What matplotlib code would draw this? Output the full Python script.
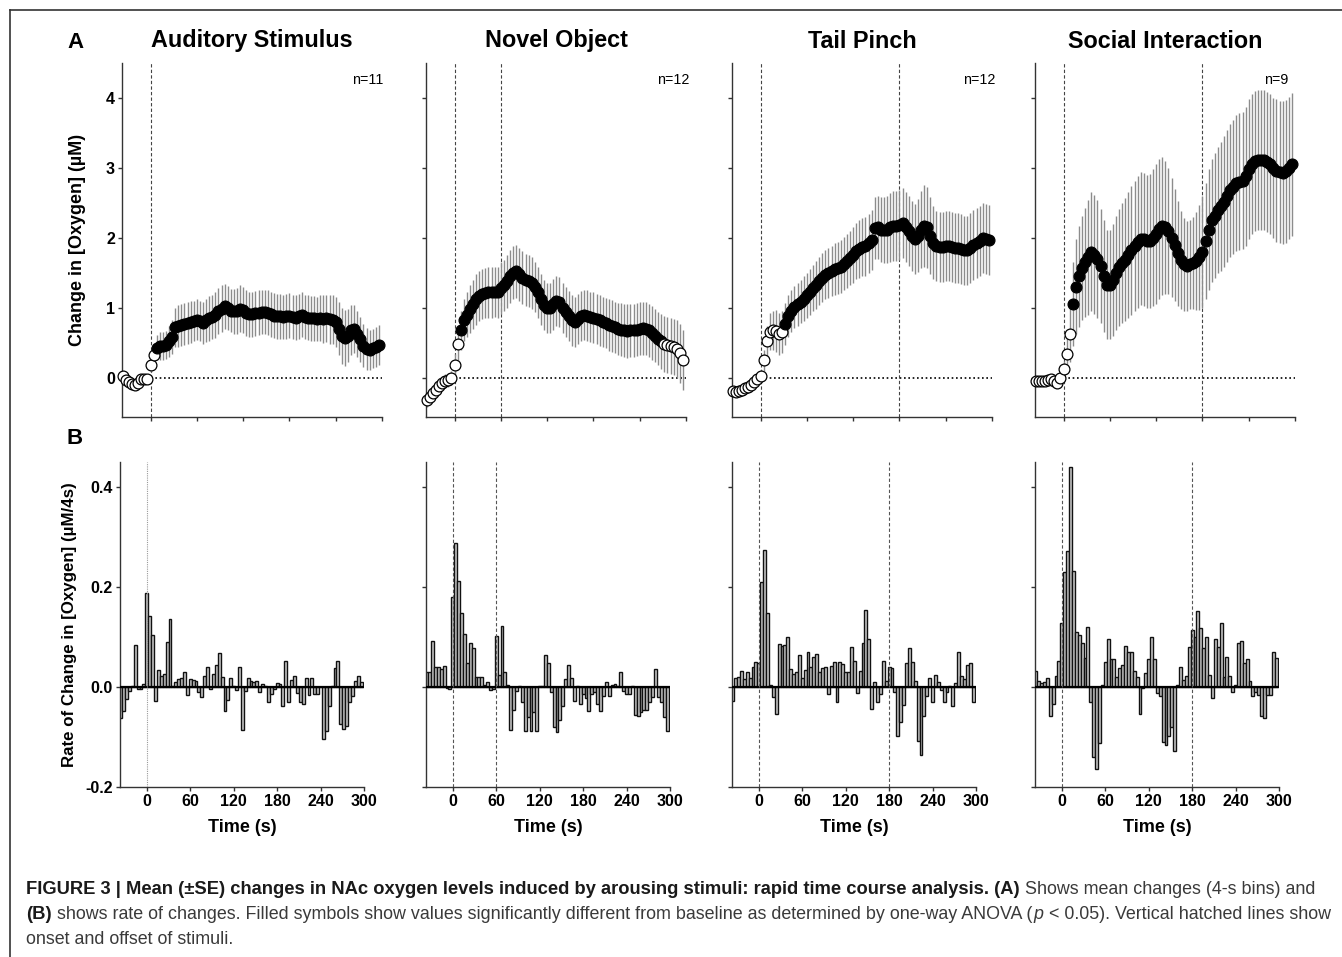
import matplotlib
matplotlib.use("Agg")
import numpy as np
import matplotlib.pyplot as plt
from matplotlib.lines import Line2D

plt.rcParams['font.family'] = ['Liberation Sans', 'DejaVu Sans']

# ---------------- data ----------------
time_s = list(range(-36, 300, 4))          # 4-s bins
titles = ['Auditory Stimulus', 'Novel Object', 'Tail Pinch', 'Social Interaction']
n_labels = ['n=11', 'n=12', 'n=12', 'n=9']
stim_off = [None, 60, 180, 180]
sig_start = [8, 8, 32, 12]
sig_end = [296, 268, 296, 296]

auditory_mean = [0.03, -0.03, -0.06, -0.09, -0.10, -0.08, -0.02, -0.01, -0.01,
                 0.18, 0.33, 0.43, 0.45, 0.45, 0.47, 0.52, 0.58, 0.72, 0.74,
                 0.75, 0.77, 0.78, 0.80, 0.81, 0.83, 0.81, 0.79, 0.82, 0.85,
                 0.87, 0.90, 0.95, 0.99, 1.02, 1.00, 0.96, 0.95, 0.96, 0.99,
                 0.97, 0.93, 0.91, 0.91, 0.92, 0.93, 0.94, 0.94, 0.93, 0.91,
                 0.89, 0.88, 0.88, 0.87, 0.88, 0.89, 0.87, 0.86, 0.88, 0.90,
                 0.87, 0.86, 0.85, 0.85, 0.84, 0.85, 0.84, 0.85, 0.84, 0.83,
                 0.80, 0.70, 0.60, 0.57, 0.60, 0.68, 0.70, 0.63, 0.55, 0.46,
                 0.41, 0.40, 0.42, 0.44, 0.47]
auditory_se = [0.05, 0.05, 0.05, 0.05, 0.05, 0.05, 0.05, 0.05, 0.06,
               0.10, 0.14, 0.18, 0.20, 0.20, 0.20, 0.22, 0.24, 0.28, 0.30,
               0.30, 0.30, 0.30, 0.30, 0.29, 0.29, 0.29, 0.30, 0.31, 0.32,
               0.32, 0.33, 0.33, 0.33, 0.32, 0.31, 0.31, 0.32, 0.33, 0.33,
               0.33, 0.33, 0.32, 0.32, 0.32, 0.32, 0.32, 0.32, 0.32, 0.32,
               0.32, 0.32, 0.32, 0.32, 0.32, 0.32, 0.32, 0.32, 0.32, 0.32,
               0.32, 0.32, 0.32, 0.32, 0.32, 0.33, 0.34, 0.34, 0.35, 0.35,
               0.36, 0.38, 0.40, 0.40, 0.38, 0.36, 0.34, 0.33, 0.32, 0.31,
               0.30, 0.29, 0.28, 0.28, 0.28]

novel_mean = [-0.31, -0.27, -0.22, -0.17, -0.12, -0.08, -0.05, -0.03, 0.00,
              0.19, 0.48, 0.68, 0.82, 0.90, 0.98, 1.05, 1.12, 1.17, 1.20,
              1.21, 1.22, 1.22, 1.23, 1.22, 1.28, 1.32, 1.38, 1.45, 1.50,
              1.52, 1.48, 1.43, 1.40, 1.38, 1.36, 1.30, 1.22, 1.12, 1.04,
              1.00, 1.00, 1.05, 1.10, 1.08, 1.00, 0.94, 0.88, 0.82, 0.80,
              0.84, 0.88, 0.90, 0.89, 0.87, 0.86, 0.84, 0.82, 0.80, 0.78,
              0.76, 0.74, 0.72, 0.70, 0.69, 0.68, 0.67, 0.68, 0.68, 0.69,
              0.70, 0.71, 0.70, 0.68, 0.64, 0.60, 0.56, 0.52, 0.48, 0.47,
              0.46, 0.44, 0.41, 0.35, 0.25]
novel_se = [0.10, 0.10, 0.10, 0.10, 0.10, 0.10, 0.10, 0.10, 0.10,
            0.15, 0.22, 0.28, 0.30, 0.32, 0.34, 0.35, 0.36, 0.36, 0.36,
            0.36, 0.36, 0.36, 0.36, 0.36, 0.37, 0.37, 0.38, 0.38, 0.38,
            0.38, 0.38, 0.38, 0.37, 0.37, 0.37, 0.36, 0.36, 0.36, 0.36,
            0.36, 0.36, 0.36, 0.36, 0.36, 0.36, 0.36, 0.36, 0.36, 0.36,
            0.36, 0.36, 0.36, 0.36, 0.36, 0.36, 0.36, 0.36, 0.36, 0.36,
            0.37, 0.37, 0.37, 0.37, 0.38, 0.38, 0.38, 0.38, 0.38, 0.38,
            0.38, 0.38, 0.38, 0.38, 0.38, 0.38, 0.38, 0.39, 0.40, 0.40,
            0.40, 0.40, 0.41, 0.42, 0.43]

tail_mean = [-0.19, -0.20, -0.19, -0.17, -0.15, -0.13, -0.10, -0.06, -0.02,
             0.03, 0.25, 0.52, 0.66, 0.68, 0.67, 0.62, 0.66, 0.77, 0.88,
             0.96, 1.01, 1.05, 1.09, 1.13, 1.18, 1.23, 1.28, 1.33, 1.38,
             1.43, 1.47, 1.50, 1.53, 1.55, 1.57, 1.59, 1.63, 1.67, 1.71,
             1.76, 1.81, 1.84, 1.87, 1.88, 1.92, 1.97, 2.14, 2.15, 2.12,
             2.11, 2.12, 2.15, 2.17, 2.17, 2.19, 2.21, 2.16, 2.10, 2.03,
             1.98, 2.03, 2.12, 2.17, 2.15, 2.03, 1.93, 1.88, 1.87, 1.87,
             1.88, 1.88, 1.87, 1.86, 1.85, 1.84, 1.82, 1.82, 1.86, 1.90,
             1.93, 1.96, 2.00, 1.99, 1.97]
tail_se = [0.04, 0.04, 0.04, 0.04, 0.04, 0.04, 0.04, 0.04, 0.05,
           0.08, 0.15, 0.22, 0.26, 0.28, 0.30, 0.30, 0.30, 0.30, 0.30,
           0.30, 0.30, 0.31, 0.31, 0.32, 0.32, 0.33, 0.33, 0.34, 0.34,
           0.35, 0.35, 0.36, 0.36, 0.37, 0.37, 0.38, 0.38, 0.39, 0.39,
           0.40, 0.40, 0.41, 0.41, 0.42, 0.42, 0.43, 0.44, 0.45, 0.46,
           0.47, 0.48, 0.49, 0.50, 0.50, 0.50, 0.50, 0.50, 0.50, 0.50,
           0.50, 0.52, 0.55, 0.58, 0.58, 0.55, 0.52, 0.50, 0.50, 0.50,
           0.50, 0.50, 0.50, 0.50, 0.50, 0.50, 0.50, 0.50, 0.50, 0.50,
           0.50, 0.50, 0.50, 0.50, 0.50]

social_mean = [-0.05, -0.05, -0.04, -0.04, -0.03, -0.02, -0.05, -0.08, 0.00,
               0.12, 0.34, 0.62, 1.06, 1.30, 1.45, 1.57, 1.65, 1.72, 1.80,
               1.76, 1.70, 1.60, 1.45, 1.33, 1.33, 1.40, 1.50, 1.58, 1.64,
               1.69, 1.75, 1.82, 1.88, 1.94, 1.99, 1.98, 1.95, 1.96, 2.00,
               2.06, 2.13, 2.17, 2.15, 2.10, 2.00, 1.90, 1.78, 1.68, 1.62,
               1.60, 1.62, 1.64, 1.67, 1.72, 1.80, 1.95, 2.12, 2.25, 2.32,
               2.40, 2.45, 2.52, 2.60, 2.68, 2.73, 2.78, 2.80, 2.82, 2.88,
               2.98, 3.05, 3.10, 3.12, 3.12, 3.11, 3.09, 3.05, 3.00, 2.96,
               2.94, 2.93, 2.95, 3.00, 3.05]
social_se = [0.06, 0.06, 0.06, 0.06, 0.06, 0.06, 0.06, 0.06, 0.06,
             0.12, 0.25, 0.40, 0.60, 0.68, 0.72, 0.75, 0.78, 0.82, 0.85,
             0.85, 0.84, 0.82, 0.80, 0.78, 0.78, 0.80, 0.82, 0.84, 0.86,
             0.88, 0.90, 0.92, 0.93, 0.94, 0.95, 0.95, 0.95, 0.96, 0.98,
             1.00, 1.00, 0.98, 0.95, 0.90, 0.85, 0.80, 0.75, 0.70, 0.66,
             0.64, 0.64, 0.66, 0.70, 0.75, 0.80, 0.83, 0.86, 0.88, 0.90,
             0.90, 0.92, 0.93, 0.94, 0.95, 0.96, 0.97, 0.98, 0.98, 0.99,
             1.00, 1.00, 1.00, 1.00, 1.00, 1.00, 1.00, 1.00, 1.00, 1.02,
             1.02, 1.02, 1.02, 1.02, 1.02]

auditory_rate = [-0.062, -0.047, -0.023, -0.008, 0.003, 0.085, -0.004, -0.003, 0.006,
                 0.189, 0.143, 0.105, -0.028, 0.035, 0.022, 0.026, 0.090, 0.137, 0.003,
                 0.010, 0.016, 0.018, 0.030, -0.015, 0.016, 0.015, 0.012, -0.010, -0.020,
                 0.022, 0.040, -0.003, 0.027, 0.045, 0.068, 0.020, -0.048, -0.025, 0.018,
                 0.002, -0.005, 0.040, -0.085, -0.008, 0.018, 0.013, 0.010, 0.012, -0.010,
                 0.006, 0.003, -0.030, -0.013, -0.003, 0.008, 0.006, -0.038, 0.052, -0.030,
                 0.015, 0.022, -0.012, -0.030, -0.033, 0.018, -0.015, 0.018, -0.013, -0.013,
                 0.001, -0.103, -0.088, -0.037, 0.002, 0.038, 0.053, -0.073, -0.083, -0.077,
                 -0.030, -0.017, 0.013, 0.023, 0.010]
novel_rate = [0.031, 0.031, 0.092, 0.040, 0.040, 0.037, 0.042, -0.002, -0.003,
              0.180, 0.288, 0.213, 0.148, 0.107, 0.049, 0.088, 0.078, 0.020, 0.020,
              0.020, 0.004, 0.011, -0.006, -0.003, 0.103, 0.024, 0.122, 0.031, 0.005,
              -0.085, -0.045, -0.008, 0.003, -0.030, -0.088, -0.060, -0.087, -0.050, -0.088,
              0.003, 0.003, 0.065, 0.048, -0.010, -0.080, -0.090, -0.065, -0.038, 0.016,
              0.044, 0.018, -0.028, 0.002, -0.033, -0.013, -0.022, -0.048, -0.014, -0.010,
              -0.033, -0.048, -0.017, 0.010, -0.018, 0.004, 0.006, 0.003, 0.030, -0.007,
              -0.014, -0.013, 0.002, -0.055, -0.057, -0.050, -0.045, -0.045, -0.030, -0.020,
              0.037, -0.020, -0.030, -0.060, -0.088]
tail_rate = [-0.028, 0.018, 0.020, 0.032, 0.016, 0.030, 0.018, 0.040, 0.050,
             0.048, 0.210, 0.274, 0.149, 0.004, -0.020, -0.053, 0.086, 0.083, 0.085,
             0.101, 0.036, 0.026, 0.031, 0.064, 0.018, 0.035, 0.071, 0.040, 0.060,
             0.066, 0.030, 0.038, 0.040, -0.013, 0.043, 0.050, -0.030, 0.050, 0.047,
             0.030, 0.030, 0.080, 0.052, -0.012, 0.033, 0.088, 0.155, 0.097, -0.043,
             0.010, -0.030, -0.013, 0.053, 0.012, 0.040, 0.038, -0.010, -0.097, -0.070,
             -0.035, 0.048, 0.078, 0.050, 0.012, -0.108, -0.135, -0.057, -0.018, 0.018,
             -0.030, 0.024, 0.010, -0.005, -0.030, -0.010, 0.003, -0.038, 0.008, 0.070,
             0.022, 0.016, 0.045, 0.048, -0.030]
social_rate = [0.032, 0.012, 0.008, 0.010, 0.018, -0.057, -0.033, 0.022, 0.052,
               0.128, 0.230, 0.273, 0.440, 0.232, 0.110, 0.105, 0.088, 0.058, 0.120,
               -0.030, -0.140, -0.164, -0.112, 0.005, 0.050, 0.097, 0.057, 0.057, 0.020,
               0.038, 0.045, 0.082, 0.070, 0.070, 0.033, 0.020, -0.053, -0.002, 0.028,
               0.057, 0.100, 0.057, -0.012, -0.017, -0.110, -0.115, -0.098, -0.080, -0.128,
               0.005, 0.040, 0.015, 0.022, 0.080, 0.114, 0.100, 0.152, 0.118, 0.078,
               0.100, 0.025, -0.022, 0.097, 0.080, 0.128, 0.020, 0.060, 0.022, -0.010,
               0.005, 0.088, 0.093, 0.048, 0.057, 0.012, -0.018, -0.010, -0.015, -0.057,
               -0.062, -0.015, -0.015, 0.070, 0.058]

means = [auditory_mean, novel_mean, tail_mean, social_mean]
ses = [auditory_se, novel_se, tail_se, social_se]
rates = [auditory_rate, novel_rate, tail_rate, social_rate]
for arr in means + ses + rates:
    assert len(arr) == len(time_s), len(arr)

# ---------------- layout ----------------
W, H = 1342, 957
fig = plt.figure(figsize=(W / 100, H / 100), dpi=100)
fig.patch.set_facecolor('white')


def fx(px):
    return px / W


def fy(py):
    return 1 - py / H


def add_ax(left, right, top, bottom):
    return fig.add_axes([fx(left), fy(bottom), (right - left) / W, (bottom - top) / H])


top_lefts = [122, 426, 732, 1035]
bot_lefts = [120, 426, 732, 1035]
XMIN, XMAX = -37, 300
spine_col = '#333333'
tick_font = dict(fontsize=11.5, fontweight='bold')


def style_axes(ax):
    for s in ['top', 'right']:
        ax.spines[s].set_visible(False)
    for s in ['left', 'bottom']:
        ax.spines[s].set_color(spine_col)
        ax.spines[s].set_linewidth(1.0)
    ax.tick_params(direction='out', length=3, width=1.0, colors=spine_col,
                   labelcolor='black', pad=2)
    ax.set_xlim(XMIN, XMAX)
    ax.set_xticks([0, 60, 120, 180, 240, 300])


t = np.array(time_s)
for i in range(4):
    # ---- top row ----
    ax = add_ax(top_lefts[i], top_lefts[i] + 260, 63, 417)
    style_axes(ax)
    ax.set_ylim(-0.56, 4.5)
    ax.set_yticks([0, 1, 2, 3, 4])
    ax.set_xticklabels([])
    if i == 0:
        ax.set_yticklabels(['0', '1', '2', '3', '4'], **tick_font)
    else:
        ax.set_yticklabels([])
    m = np.array(means[i])
    se = np.array(ses[i])
    ax.plot([0, 300], [0, 0], color='black', lw=1.2, ls=(0, (1, 1.6)), zorder=1)
    ax.axvline(0, color='#444444', lw=0.8, ls=(0, (3, 2)), zorder=1)
    if stim_off[i] is not None:
        ax.axvline(stim_off[i], color='#444444', lw=0.8, ls=(0, (3, 2)), zorder=1)
    ax.vlines(t, m - se, m + se, colors='#8c8c8c', linewidth=1.0, zorder=2)
    pre = t < sig_start[i]
    sig = (t >= sig_start[i]) & (t <= sig_end[i])
    post = t > sig_end[i]
    ax.plot(t[pre], m[pre], 'o', ms=7.8, mfc='white', mec='black', mew=0.9,
            zorder=3, clip_on=False)
    ax.plot(t[sig], m[sig], 'o', ms=7.8, mfc='black', mec='black', mew=0.9,
            zorder=4, clip_on=False)
    ax.plot(t[post], m[post], 'o', ms=7.8, mfc='white', mec='black', mew=0.9,
            zorder=5, clip_on=False)
    cx = top_lefts[i] + 130
    fig.text(fx(cx), fy(41), titles[i], ha='center', va='center',
             fontsize=16.8, fontweight='bold')
    nx = [368, 673, 979, 1276][i]
    fig.text(fx(nx), fy(80), n_labels[i], ha='center', va='center', fontsize=10.3)

    # ---- bottom row ----
    ax2 = add_ax(bot_lefts[i], bot_lefts[i] + 244, 462, 787)
    style_axes(ax2)
    ax2.set_ylim(-0.2, 0.45)
    ax2.set_yticks([-0.2, 0.0, 0.2, 0.4])
    ax2.set_xticklabels(['0', '60', '120', '180', '240', '300'], **tick_font)
    if i == 0:
        ax2.set_yticklabels(['-0.2', '0.0', '0.2', '0.4'], **tick_font)
    else:
        ax2.set_yticklabels([])
    ax2.bar(t, rates[i], width=4, color='#c8c8c8', edgecolor='#111111',
            linewidth=1.0, zorder=2)
    ax2.plot([XMIN, 300], [0, 0], color='black', lw=1.6, zorder=3)
    if i == 0:
        ax2.axvline(0, color='#9a9a9a', lw=0.8, ls=(0, (1, 1)), zorder=4)
    else:
        ax2.axvline(0, color='#555555', lw=0.8, ls=(0, (3, 2)), zorder=4)
        ax2.axvline(stim_off[i], color='#555555', lw=0.8, ls=(0, (3, 2)), zorder=4)
    fig.text(fx(bot_lefts[i] + 122), fy(828), 'Time (s)', ha='center', va='center',
             fontsize=13, fontweight='bold')

# axis labels and panel letters
fig.text(fx(78), fy(240), 'Change in [Oxygen] (\u00b5M)', rotation=90,
         ha='center', va='center', fontsize=13, fontweight='bold')
fig.text(fx(70), fy(625), 'Rate of Change in [Oxygen] (\u00b5M/4s)', rotation=90,
         ha='center', va='center', fontsize=12.2, fontweight='bold')
fig.text(fx(75), fy(42), 'A', ha='center', va='center', fontsize=16, fontweight='bold')
fig.text(fx(75), fy(439), 'B', ha='center', va='center', fontsize=16, fontweight='bold')

# frame
fig.add_artist(Line2D([fx(10), fx(1342)], [fy(10), fy(10)], color='#333333', lw=1.2))
fig.add_artist(Line2D([fx(10), fx(10)], [fy(10), fy(957)], color='#333333', lw=1.2))

# caption
renderer = fig.canvas.get_renderer()
bold = dict(fontsize=13.2, fontweight='bold', color='#1a1a1a')
reg = dict(fontsize=12.9, color='#3a3a3a')
ital = dict(fontsize=12.9, style='italic', color='#3a3a3a')


def width_of(s, kw):
    tt = fig.text(0, 0, s, **kw)
    w = tt.get_window_extent(renderer).width
    tt.remove()
    return w


sp_reg = width_of('a a', reg) - width_of('aa', reg)


def draw_runs(x, y, runs):
    for s, kw, gap in runs:
        x += gap
        tt = fig.text(fx(x), fy(y), s, ha='left', va='baseline', **kw)
        x += tt.get_window_extent(renderer).width


draw_runs(26, 894, [
    ('FIGURE 3 | Mean (\u00b1SE) changes in NAc oxygen levels induced by arousing '
     'stimuli: rapid time course analysis. (A)', bold, 0),
    ('Shows mean changes (4-s bins) and', reg, sp_reg)])
draw_runs(26, 919, [
    ('(B)', bold, 0),
    ('shows rate of changes. Filled symbols show values significantly different from '
     'baseline as determined by one-way ANOVA (', reg, sp_reg),
    ('p', ital, 1),
    ('< 0.05). Vertical hatched lines show', reg, sp_reg + 1)])
draw_runs(26, 944, [('onset and offset of stimuli.', reg, 0)])

fig.savefig('out.png', dpi=100, facecolor='white')
